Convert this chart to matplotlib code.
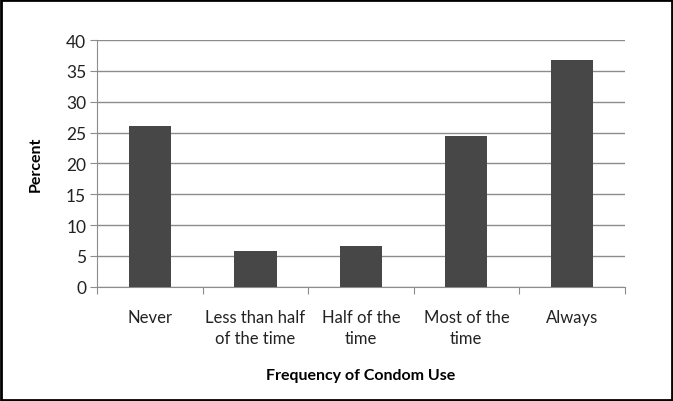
import matplotlib.pyplot as plt
from matplotlib.patches import Rectangle

categories = ['Never', 'Less than half\nof the time', 'Half of the\ntime', 'Most of the\ntime', 'Always']
percent = [26.1, 5.75, 6.55, 24.5, 36.8]
y_ticks = [0, 5, 10, 15, 20, 25, 30, 35, 40]

plt.rcParams['font.family'] = ['Lato', 'DejaVu Sans']

fig = plt.figure(figsize=(6.73, 4.02), dpi=100)
ax = fig.add_axes([0.1446, 0.2843, 0.7834, 0.6137])

x = range(len(categories))
ax.bar(x, percent, width=0.4, color='#474747', zorder=3)

ax.set_xlim(-0.5, len(categories) - 0.5)
ax.set_ylim(0, 40)
ax.set_yticks(y_ticks)
ax.yaxis.grid(True, color='#8c8c8c', linewidth=1, zorder=0)

# category separators on the x axis, like Excel
ax.set_xticks([i - 0.5 for i in range(len(categories) + 1)])
ax.set_xticklabels([])
ax.set_xticks(list(x), minor=True)
ax.set_xticklabels(categories, minor=True, fontsize=12, color='#222222', linespacing=1.4)
ax.tick_params(axis='x', which='minor', length=0, pad=16)
ax.tick_params(axis='x', which='major', length=5, color='#8c8c8c', direction='out')
ax.tick_params(axis='y', length=5, color='#8c8c8c', labelsize=12.5, labelcolor='#222222', pad=3)

for side in ['top', 'right']:
    ax.spines[side].set_visible(False)
ax.spines['left'].set_color('#8c8c8c')
ax.spines['bottom'].set_color('#8c8c8c')

ax.set_ylabel('Percent', fontsize=11.5, fontweight='bold', labelpad=17)
ax.set_xlabel('Frequency of Condom Use', fontsize=11.5, fontweight='bold', labelpad=16)

fig.patches.append(Rectangle((0.002, 0.003), 0.996, 0.994, transform=fig.transFigure,
                             fill=False, edgecolor='black', linewidth=2))

fig.savefig('out.png', dpi=100)
